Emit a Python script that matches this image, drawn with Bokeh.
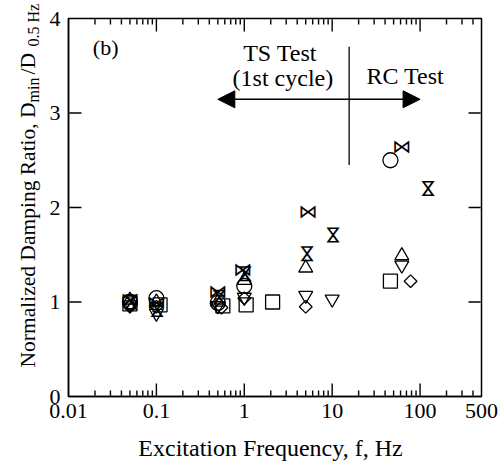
import math
from bokeh.plotting import figure
from bokeh.layouts import row, column
from bokeh.models import (FixedTicker, CustomJSTickFormatter, Label, Arrow, NormalHead,
                          Range1d, ColumnDataSource)
from bokeh.core.properties import value
from bokeh.embed import file_html
from bokeh.resources import INLINE

# ---------------- data ----------------
circle_f = [0.05, 0.1, 0.5, 1.0, 46]
circle_y = [1.00, 1.04, 0.99, 1.17, 2.50]

square_f = [0.05, 0.11, 0.57, 1.05, 2.1, 46]
square_y = [0.98, 0.97, 0.96, 0.97, 1.00, 1.22]

triup_f = [0.05, 0.1, 0.5, 1.0, 5.0, 62]
triup_y = [1.02, 1.00, 1.00, 1.23, 1.36, 1.49]

tridn_f = [0.05, 0.1, 0.5, 1.0, 5.0, 10, 62]
tridn_y = [0.97, 0.88, 0.96, 1.05, 1.07, 1.03, 1.39]

diam_f = [0.05, 0.1, 0.55, 1.0, 5.0, 78]
diam_y = [0.95, 0.95, 0.94, 1.04, 0.95, 1.22]

hour_f = [0.05, 0.1, 0.5, 1.0, 5.0, 10, 120]
hour_y = [1.00, 0.92, 1.05, 1.30, 1.51, 1.71, 2.20]

bow_f = [0.05, 0.1, 0.5, 0.96, 5.3, 62]
bow_y = [1.03, 1.00, 1.12, 1.35, 1.96, 2.65]

x_ticks = [0.01, 0.1, 1, 10, 100, 500]
x_major_marks = [0.1, 1, 10, 100]
y_ticks = [0, 1, 2, 3, 4]
y_major_marks = [1, 2, 3]
x_minor = [m * d for d in (0.01, 0.1, 1, 10, 100) for m in range(2, 10) if m * d < 500]

ylabel_parts = ["Normalized Damping Ratio, D", "min", "/D", "0.5 Hz"]
xlabel = "Excitation Frequency, f, Hz"

FONT = "Liberation Serif"
W, H = 504, 465
LABEL_W = 46           # width of the strip holding the y-axis title
XL_H = 36              # height of the strip holding the x-axis title
FL, FR, FT, FB = 66, 23, 18, 69          # frame borders in the page
X_LO, X_HI, Y_LO, Y_HI = 0.01, 500, 0, 4

p = figure(width=W - LABEL_W, height=H - XL_H, x_axis_type="log",
           x_range=Range1d(X_LO, X_HI), y_range=Range1d(Y_LO, Y_HI),
           output_backend="svg", toolbar_location=None,
           min_border_left=FL - LABEL_W, min_border_right=FR, min_border_top=FT,
           min_border_bottom=FB - XL_H)
p.frame_align = False
p.grid.visible = False
p.outline_line_color = "black"
p.outline_line_width = 1.5
p.background_fill_color = "white"
p.border_fill_color = "white"

def style_axis(ax):
    ax.axis_line_color = "black"
    ax.axis_line_width = 1.5
    ax.major_tick_in = 0
    ax.major_tick_out = 0
    ax.minor_tick_in = 0
    ax.minor_tick_out = 0
    ax.major_label_text_font = FONT
    ax.major_label_text_font_size = "22px"
    ax.major_label_text_color = "black"

xa = p.xaxis[0]
xa.ticker = FixedTicker(ticks=x_ticks)
xa.formatter = CustomJSTickFormatter(code="return tick.toString();")
style_axis(xa)
xa.major_label_standoff = 7

ya = p.yaxis[0]
ya.ticker = FixedTicker(ticks=y_ticks)
style_axis(ya)
ya.major_label_standoff = 8

# ---------------- inward tick marks on all four sides ----------------
px_per_y = (H - FT - FB) / (Y_HI - Y_LO)
px_per_dec = (W - FL - FR) / math.log10(X_HI / X_LO)
MAJ, MIN, GAP = 13, 6, 0.8
g_y = GAP / px_per_y
g_x = 10 ** (GAP / px_per_dec)
dy_maj, dy_min = MAJ / px_per_y, MIN / px_per_y
kx_maj = 10 ** (MAJ / px_per_dec)

TK = dict(line_color="black", line_width=1.4)
for xs, dy in ((x_major_marks, dy_maj), (x_minor, dy_min)):
    k = len(xs)
    p.segment(x0=xs, y0=[Y_LO + g_y] * k, x1=xs, y1=[Y_LO + dy] * k, **TK)
    p.segment(x0=xs, y0=[Y_HI - g_y] * k, x1=xs, y1=[Y_HI - dy] * k, **TK)
n = len(y_major_marks)
p.segment(x0=[X_LO * g_x] * n, y0=y_major_marks, x1=[X_LO * kx_maj] * n, y1=y_major_marks, **TK)
p.segment(x0=[X_HI / g_x] * n, y0=y_major_marks, x1=[X_HI / kx_maj] * n, y1=y_major_marks, **TK)

# ---------------- markers ----------------
LW = 1.3
p.scatter(circle_f, circle_y, marker="circle", size=15, fill_color=None, line_color="black", line_width=LW)
p.scatter(square_f, square_y, marker="square", size=14, fill_color=None, line_color="black", line_width=LW)
p.scatter(triup_f, triup_y, marker="triangle", size=14, fill_color=None, line_color="black", line_width=LW)
p.scatter(tridn_f, tridn_y, marker="inverted_triangle", size=14, fill_color=None, line_color="black", line_width=LW)
p.scatter(diam_f, diam_y, marker="square", angle=math.pi / 4, size=9, fill_color=None, line_color="black", line_width=LW)

bow_src = ColumnDataSource(dict(x=bow_f, y=bow_y, t=["\u22c8"] * len(bow_f)))
p.text(x="x", y="y", text="t", source=bow_src, text_font=value("DejaVu Sans"), text_font_size="19px",
       text_align="center", text_baseline="middle", text_color="black")
hour_src = ColumnDataSource(dict(x=hour_f, y=hour_y, t=["\u22c8"] * len(hour_f)))
p.text(x="x", y="y", text="t", source=hour_src, text_font=value("DejaVu Sans"), text_font_size="19px",
       text_align="center", text_baseline="middle", text_color="black", angle=math.pi / 2)

# ---------------- annotations ----------------
def lab(x, y, text, size="24px"):
    p.add_layout(Label(x=x, y=y, text=text, text_font=FONT, text_font_size=size,
                       text_align="center", text_baseline="middle", text_color="black"))

lab(0.0265, 3.69, "(b)", size="22px")
lab(2.55, 3.64, "TS Test")
lab(2.75, 3.37, "(1st cycle)")
lab(68, 3.39, "RC Test")

div_f = 15.6
p.segment(x0=[div_f], y0=[2.45], x1=[div_f], y1=[3.70], line_color="black", line_width=1.3)
p.add_layout(Arrow(x_start=div_f, y_start=3.145, x_end=0.5, y_end=3.145, line_width=1.5,
                   end=NormalHead(size=17, fill_color="black", line_color="black")))
p.add_layout(Arrow(x_start=div_f, y_start=3.145, x_end=100, y_end=3.145, line_width=1.5,
                   end=NormalHead(size=17, fill_color="black", line_color="black")))

# ---------------- y-axis title strip (pixel-like coordinates, y downwards) ----------------
yl = figure(width=LABEL_W, height=H, x_range=Range1d(0, LABEL_W), y_range=Range1d(H, 0),
            output_backend="svg", toolbar_location=None,
            x_axis_location=None, y_axis_location=None,
            min_border=0, min_border_left=0, min_border_right=0, min_border_top=0, min_border_bottom=0)
yl.frame_align = False
yl.grid.visible = False
yl.outline_line_color = None
yl.background_fill_color = "white"
yl.border_fill_color = "white"
src = ColumnDataSource(dict(x=[27, 33, 27, 33], y=[367, 102, 74, 46], t=ylabel_parts,
                            s=["21.5px", "16px", "21.5px", "16px"]))
yl.text(x="x", y="y", text="t", source=src, text_font=value(FONT), text_font_size="s",
        text_align="left", text_baseline="alphabetic", angle=math.pi / 2, text_color="black")

# ---------------- x-axis title strip ----------------
xw = W - LABEL_W
xl = figure(width=xw, height=XL_H, x_range=Range1d(0, xw), y_range=Range1d(XL_H, 0),
            output_backend="svg", toolbar_location=None,
            x_axis_location=None, y_axis_location=None,
            min_border=0, min_border_left=0, min_border_right=0, min_border_top=0, min_border_bottom=0)
xl.frame_align = False
xl.grid.visible = False
xl.outline_line_color = None
xl.background_fill_color = "white"
xl.border_fill_color = "white"
xsrc = ColumnDataSource(dict(x=[270 - LABEL_W], t=[xlabel]))
xl.text(x="x", y=value(XL_H / 2), text="t", source=xsrc, text_font=value(FONT),
        text_font_size="24px", text_align="center", text_baseline="middle", text_color="black")

layout = row(yl, column(p, xl, spacing=0), spacing=0)
open("out.html", "w").write(file_html(layout, INLINE))
